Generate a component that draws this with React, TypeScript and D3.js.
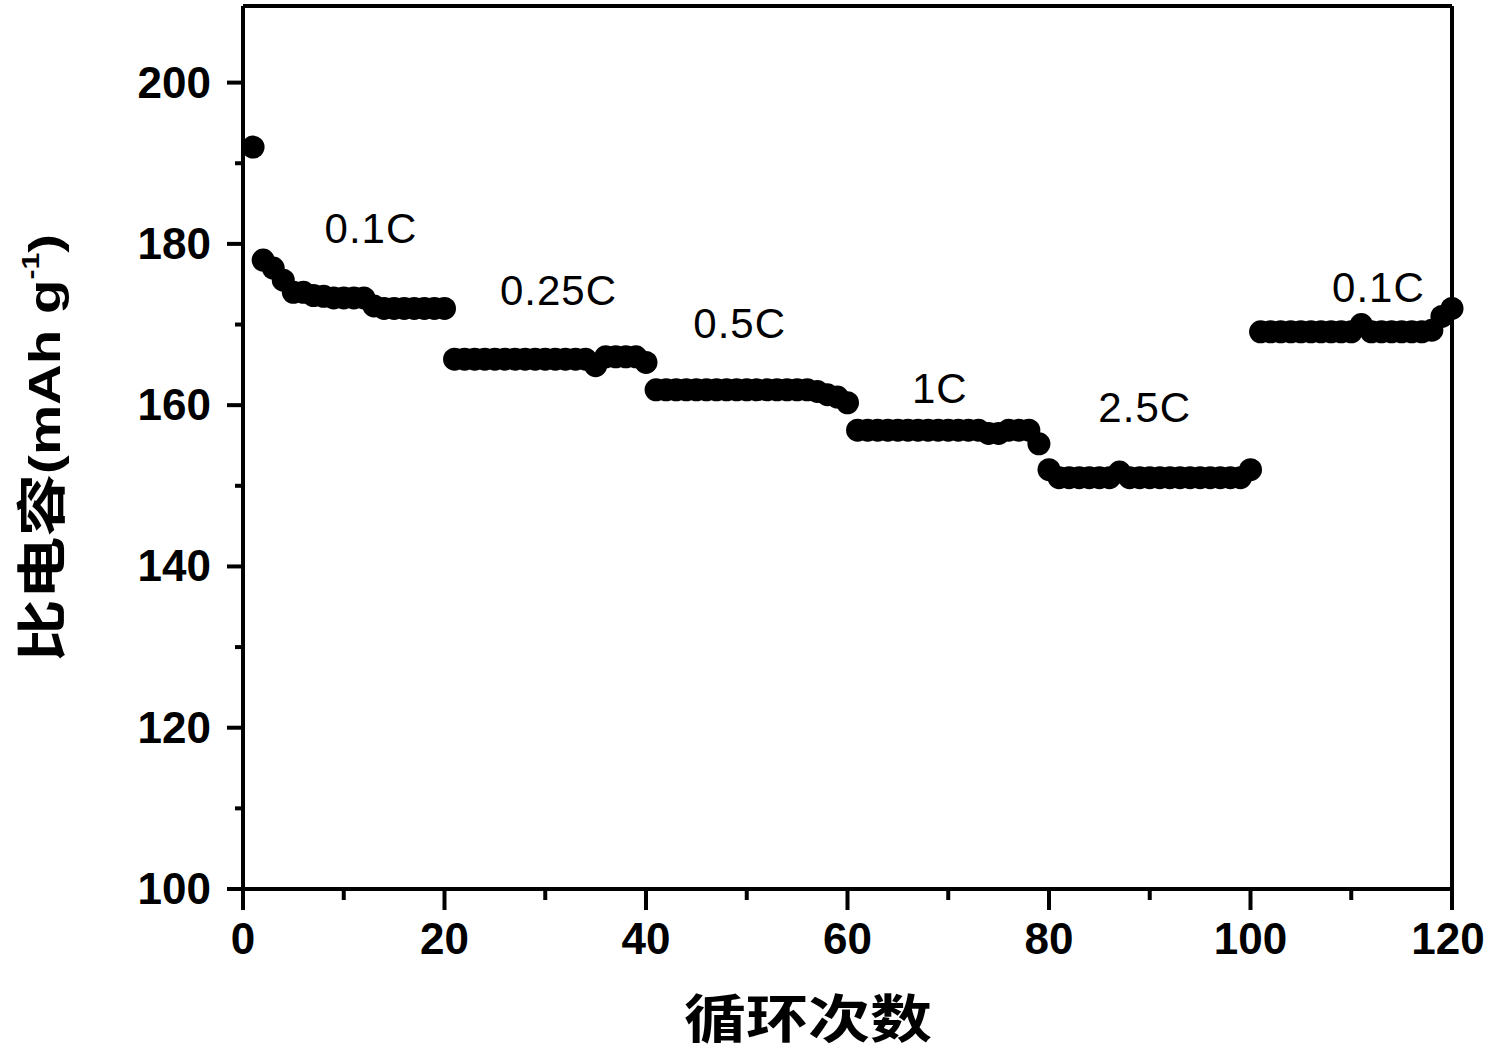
import React from "react";
import * as d3 from "d3";

const cycles: number[] = d3.range(1, 121);
const capacity: number[] = [
  // 0.1C (1-20)
  192, 178, 177, 175.5, 174, 174, 173.6, 173.5, 173.3, 173.3, 173.3, 173.3, 172.3, 172, 172, 172, 172, 172, 172, 172,
  // 0.25C (21-40)
  165.7, 165.7, 165.7, 165.7, 165.7, 165.7, 165.7, 165.7, 165.7, 165.7, 165.7, 165.7, 165.7, 165.7, 164.9, 166, 166, 166, 166, 165.3,
  // 0.5C (41-60)
  161.9, 161.9, 161.9, 161.9, 161.9, 161.9, 161.9, 161.9, 161.9, 161.9, 161.9, 161.9, 161.9, 161.9, 161.9, 161.9, 161.7, 161.3, 161, 160.3,
  // 1C (61-80)
  156.9, 156.9, 156.9, 156.9, 156.9, 156.9, 156.9, 156.9, 156.9, 156.9, 156.9, 156.9, 156.9, 156.5, 156.5, 156.9, 156.9, 156.9, 155.2, 152,
  // 2.5C (81-100)
  151, 151, 151, 151, 151, 151, 151.7, 151, 151, 151, 151, 151, 151, 151, 151, 151, 151, 151, 151, 152,
  // 0.1C (101-120)
  169.1, 169.1, 169.1, 169.1, 169.1, 169.1, 169.1, 169.1, 169.1, 169.1, 170, 169.1, 169.1, 169.1, 169.1, 169.1, 169.1, 169.3, 171, 172,
];

const xMajorTicks: number[] = [0, 20, 40, 60, 80, 100, 120];
const xMinorTicks: number[] = [10, 30, 50, 70, 90, 110];
const yMajorTicks: number[] = [100, 120, 140, 160, 180, 200];
const yMinorTicks: number[] = [110, 130, 150, 170, 190];

const rateLabels: string[] = ["0.1C", "0.25C", "0.5C", "1C", "2.5C", "0.1C"];
const rateLabelX: number[] = [8.1, 25.5, 44.7, 66.4, 84.9, 108.1];
const rateLabelY: number[] = [180.1, 172.4, 168.3, 160.3, 157.9, 172.8];

const xTitle = "循环次数";
const yTitleCJK = "比电容";
const yTitleUnit = "(mAh g";
const yTitleSup = "-1";

export default function App() {
  const W = 1487;
  const H = 1051;
  const x = d3.scaleLinear().domain([0, 120]).range([243, 1452]);
  const y = d3.scaleLinear().domain([100, 209.5]).range([889, 6]);
  const sw = 4;
  const latin = "'Liberation Sans', Arial, sans-serif";
  const cjk = "'Noto Sans CJK SC', 'Liberation Sans', sans-serif";

  return (
    <svg
      width={W}
      height={H}
      style={{ position: "absolute", left: 0, top: 0, background: "#fff" }}
    >
      {/* frame */}
      <line x1={x(0)} x2={x(120)} y1={y(209.5)} y2={y(209.5)} stroke="#000" strokeWidth={sw} />
      <line x1={x(120)} x2={x(120)} y1={y(209.5)} y2={y(100)} stroke="#000" strokeWidth={sw} />
      <line x1={x(0)} x2={x(120)} y1={y(100)} y2={y(100)} stroke="#000" strokeWidth={sw} />
      <line x1={x(0)} x2={x(0)} y1={y(209.5)} y2={y(100)} stroke="#000" strokeWidth={sw} />

      {/* x ticks */}
      {xMajorTicks.map((t) => (
        <g key={"xm" + t}>
          <line x1={x(t)} x2={x(t)} y1={y(100)} y2={y(100) + 21} stroke="#000" strokeWidth={sw} />
          <text
            x={t === 120 ? x(t) - 4 : x(t)}
            y={y(100) + 65}
            textAnchor="middle"
            fontFamily={latin}
            fontWeight="bold"
            fontSize={44}
          >
            {t}
          </text>
        </g>
      ))}
      {xMinorTicks.map((t) => (
        <line key={"xn" + t} x1={x(t)} x2={x(t)} y1={y(100)} y2={y(100) + 11} stroke="#000" strokeWidth={sw} />
      ))}

      {/* y ticks */}
      {yMajorTicks.map((t) => (
        <g key={"ym" + t}>
          <line x1={x(0) - 16} x2={x(0)} y1={y(t)} y2={y(t)} stroke="#000" strokeWidth={sw} />
          <text
            x={x(0) - 32}
            y={y(t) + 15}
            textAnchor="end"
            fontFamily={latin}
            fontWeight="bold"
            fontSize={44}
          >
            {t}
          </text>
        </g>
      ))}
      {yMinorTicks.map((t) => (
        <line key={"yn" + t} x1={x(0) - 8} x2={x(0)} y1={y(t)} y2={y(t)} stroke="#000" strokeWidth={sw} />
      ))}

      {/* data points */}
      {cycles.map((c, i) => (
        <circle key={"p" + c} cx={x(c)} cy={y(capacity[i])} r={11.5} fill="#000" />
      ))}

      {/* rate labels */}
      {rateLabels.map((s, i) => (
        <text
          key={"rl" + i}
          x={x(rateLabelX[i])}
          y={y(rateLabelY[i])}
          fontFamily={latin}
          fontSize={42}
          letterSpacing={1}
        >
          {s}
        </text>
      ))}

      {/* x title */}
      <text
        x={808}
        y={1038}
        textAnchor="middle"
        fontFamily={cjk}
        fontWeight="bold"
        fontSize={52}
        textLength={248}
        lengthAdjust="spacingAndGlyphs"
      >
        {xTitle}
      </text>

      {/* y title */}
      <text
        transform={`translate(60, 448) rotate(-90)`}
        textAnchor="middle"
        fontWeight="bold"
        textLength={428}
        lengthAdjust="spacingAndGlyphs"
      >
        <tspan fontFamily={cjk} fontSize={50}>{yTitleCJK}</tspan>
        <tspan fontFamily={latin} fontSize={45}>{yTitleUnit}</tspan>
        <tspan fontFamily={latin} fontSize={24} dy={-21}>{yTitleSup}</tspan>
        <tspan fontFamily={latin} fontSize={45} dy={21}>)</tspan>
      </text>
    </svg>
  );
}
